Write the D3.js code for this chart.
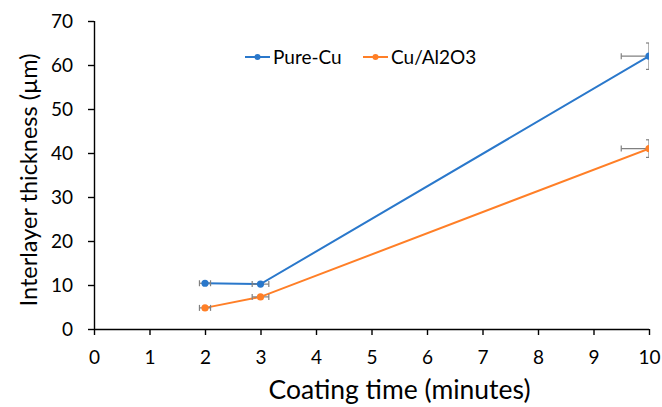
<!DOCTYPE html>
<html>
<head>
<meta charset="utf-8">
<script src="https://cdn.jsdelivr.net/npm/d3@7"></script>
<style>
  html, body { margin: 0; padding: 0; background: #fff; }
  svg { display: block; font-family: "Lato", "Open Sans", sans-serif; }
</style>
</head>
<body>
<svg id="chart" width="662" height="407"></svg>
<script>
// Coating time (minutes)
const times = [2, 3, 10];
// Interlayer thickness (µm) per series
const pureCu = [10.4, 10.2, 62];
const cuAl2O3 = [4.8, 7.3, 41];
// Error bars
const xErr = [0.1, 0.15, 0.5];
const pureCuErr = [0, 0, 3];
const cuAl2O3Err = [0, 0, 2];
const xTicks = [0, 1, 2, 3, 4, 5, 6, 7, 8, 9, 10];
const yTicks = [0, 10, 20, 30, 40, 50, 60, 70];
const seriesNames = ["Pure-Cu", "Cu/Al2O3"];
const colors = ["#2A78CB", "#FF7F27"];

const series = [
  { name: seriesNames[0], values: pureCu, err: pureCuErr, color: colors[0] },
  { name: seriesNames[1], values: cuAl2O3, err: cuAl2O3Err, color: colors[1] }
];

const svg = d3.select("#chart");
const margin = { left: 94, right: 13, top: 21, bottom: 78 };
const W = 662, H = 407;
const x = d3.scaleLinear().domain([0, 10]).range([margin.left, W - margin.right]);
const y = d3.scaleLinear().domain([0, 70]).range([H - margin.bottom, margin.top]);

svg.append("defs").append("clipPath").attr("id", "plot")
  .append("rect")
  .attr("x", x(0)).attr("y", y(70) - 5)
  .attr("width", x(10) - x(0)).attr("height", y(0) - y(70) + 5);

// Axes
const xAxis = svg.append("g")
  .attr("transform", `translate(0,${y(0)})`)
  .call(d3.axisBottom(x).tickValues(xTicks).tickSize(6).tickPadding(16).tickFormat(d3.format("d")));
const yAxis = svg.append("g")
  .attr("transform", `translate(${x(0)},0)`)
  .call(d3.axisLeft(y).tickValues(yTicks).tickSize(6).tickPadding(15).tickFormat(d3.format("d")));
[xAxis, yAxis].forEach(g => {
  g.select(".domain").attr("stroke", "#000").attr("stroke-width", 1.4);
  g.selectAll(".tick line").attr("stroke", "#000").attr("stroke-width", 1.4);
  g.selectAll(".tick text").attr("fill", "#000").style("font-size", "19px")
    .style("font-family", "Lato, 'Open Sans', sans-serif");
});
xAxis.select(".domain").attr("d", `M${x(0)},0.5H${x(10)}`);
yAxis.select(".domain").attr("d", `M0.5,${y(70)}V${y(0)}`);

const plot = svg.append("g").attr("clip-path", "url(#plot)");

series.forEach(s => {
  const pts = times.map((t, i) => ({ t, v: s.values[i], ex: xErr[i], ey: s.err[i] }));
  plot.append("path")
    .datum(pts)
    .attr("fill", "none")
    .attr("stroke", s.color)
    .attr("stroke-width", 2)
    .attr("d", d3.line().x(d => x(d.t)).y(d => y(d.v)));

  const eb = plot.append("g").attr("stroke", "#808080").attr("stroke-width", 1.2).attr("fill", "none");
  const cap = 3;
  pts.forEach(d => {
    if (d.ex > 0) {
      eb.append("line").attr("x1", x(d.t - d.ex)).attr("x2", x(d.t + d.ex)).attr("y1", y(d.v)).attr("y2", y(d.v));
      [d.t - d.ex, d.t + d.ex].forEach(e =>
        eb.append("line").attr("x1", x(e)).attr("x2", x(e)).attr("y1", y(d.v) - cap).attr("y2", y(d.v) + cap));
    }
    if (d.ey > 0) {
      eb.append("line").attr("x1", x(d.t)).attr("x2", x(d.t)).attr("y1", y(d.v - d.ey)).attr("y2", y(d.v + d.ey));
      [d.v - d.ey, d.v + d.ey].forEach(e =>
        eb.append("line").attr("x1", x(d.t) - cap).attr("x2", x(d.t) + cap).attr("y1", y(e)).attr("y2", y(e)));
    }
  });

  plot.append("g").selectAll("circle").data(pts).join("circle")
    .attr("cx", d => x(d.t)).attr("cy", d => y(d.v)).attr("r", 3.6)
    .attr("fill", s.color);
});

// Axis titles
svg.append("text")
  .attr("x", (x(0) + x(10)) / 2 + 28).attr("y", 399)
  .attr("text-anchor", "middle")
  .style("font-size", "26.5px").attr("fill", "#000")
  .text("Coating time (minutes)");
svg.append("text")
  .attr("transform", `translate(37,${(y(0) + y(70)) / 2 + 5}) rotate(-90)`)
  .attr("text-anchor", "middle")
  .style("font-size", "23.5px").attr("fill", "#000")
  .text("Interlayer thickness (µm)");

// Legend
const legendX = [245, 363];
series.forEach((s, i) => {
  const g = svg.append("g").attr("transform", `translate(${legendX[i]},57)`);
  g.append("line").attr("x1", 0).attr("x2", 25).attr("stroke", s.color).attr("stroke-width", 2);
  g.append("circle").attr("cx", 12.5).attr("r", 3).attr("fill", s.color);
  g.append("text").attr("x", 28).attr("dy", "0.35em")
    .style("font-size", "19px").attr("fill", "#000").text(s.name);
});
</script>
</body>
</html>
